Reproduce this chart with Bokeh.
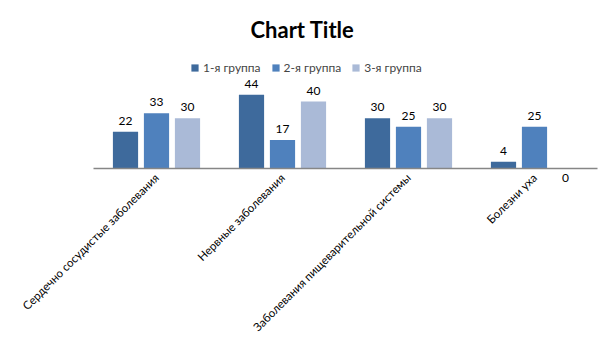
from bokeh.plotting import figure
from bokeh.models import ColumnDataSource, Range1d, Legend, LegendItem, FixedTicker
from bokeh.embed import file_html
from bokeh.resources import INLINE
from bokeh.core.properties import value
import math

categories = ["Сердечно сосудистые заболевания", "Нервные заболевания",
              "Заболевания пищеварительной системы", "Болезни уха"]
series_names = ["1-я группа", "2-я группа", "3-я группа"]
group1 = [22, 44, 30, 4]
group2 = [33, 17, 25, 25]
group3 = [30, 40, 30, 0]
colors = ["#3E6A9C", "#4F81BD", "#AABAD7"]

FONT = "Lato"
W, H = 605, 340
TOP = 42
LEFT_PX, RIGHT_PX = 93, 8      # plot area inset inside the frame
BASE_PX = 168                  # pixel row of the category axis
PX_PER_UNIT = 1.675
n = len(categories)
unit_px = (W - LEFT_PX - RIGHT_PX) / n

centers = [i + 0.5 for i in range(n)]
p = figure(width=W, height=H,
           x_range=Range1d(-LEFT_PX / unit_px, n + RIGHT_PX / unit_px),
           y_range=Range1d(-(H - BASE_PX) / PX_PER_UNIT, (BASE_PX - TOP) / PX_PER_UNIT),
           output_backend="svg", toolbar_location=None,
           y_axis_location=None, min_border_left=0, min_border_right=0,
           min_border_top=TOP, min_border_bottom=0, title="Chart Title")
p.title.align = "left"
p.title.offset = 250
p.title.standoff = 0
p.title.text_font = FONT
p.title.text_font_size = "22px"
p.title.text_font_style = "bold"
p.title.text_color = "#000000"
p.outline_line_color = None
p.xgrid.grid_line_color = None
p.ygrid.grid_line_color = None
p.background_fill_color = "white"
p.border_fill_color = "white"

ax = p.xaxis[0]
ax.fixed_location = 0
ax.bounds = (0, n)
ax.ticker = FixedTicker(ticks=centers)
ax.major_label_overrides = {c: name for c, name in zip(centers, categories)}
ax.major_label_orientation = math.pi / 4
ax.major_label_text_font = FONT
ax.major_label_text_font_size = "11.5px"
ax.major_label_text_color = "#000000"
ax.major_tick_line_color = None
ax.minor_tick_line_color = None
ax.axis_line_color = "#868686"
ax.axis_line_width = 1.5
ax.major_label_standoff = 1

offsets = [-0.246, 0.0, 0.246]
items = []
for name, vals, col, off in zip(series_names, [group1, group2, group3], colors, offsets):
    src = ColumnDataSource(dict(
        x=[c + off for c in centers], val=vals, lab=[str(v) for v in vals],
        yoff=[-11 if v > 0 else 9 for v in vals]))
    r = p.vbar(x="x", top="val", width=0.2, source=src, fill_color=col, line_color=None)
    p.text(x="x", y="val", text="lab", source=src, y_offset="yoff",
           text_align="center", text_baseline="middle",
           text_font=value(FONT), text_font_size="12px", text_color="#000000")
    items.append(LegendItem(label=name, renderers=[r]))

legend = Legend(items=items, orientation="horizontal", location=(190, H - 75),
                border_line_color=None, background_fill_alpha=0,
                label_text_font=FONT, label_text_font_size="12px",
                glyph_width=9, glyph_height=9, spacing=10, padding=0, margin=0,
                label_standoff=4)
p.add_layout(legend, "center")

open("out.html", "w").write(file_html(p, INLINE))
